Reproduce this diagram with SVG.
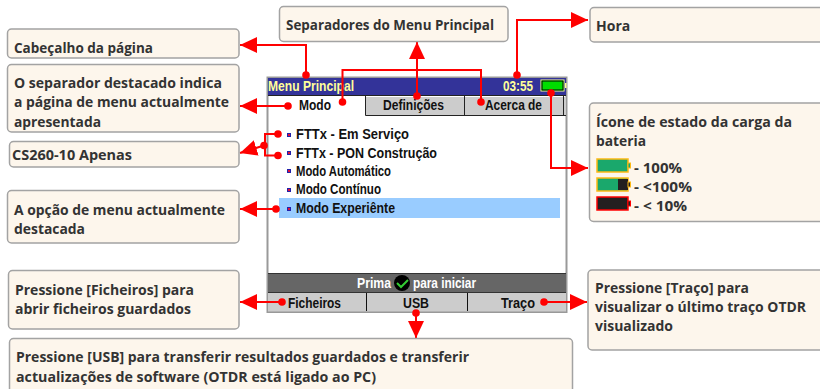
<svg xmlns="http://www.w3.org/2000/svg" width="820" height="389" viewBox="0 0 820 389">
<style>
.box{fill:#fdf6ec;stroke:#a3a3a3;stroke-width:1.5}
.t{font-family:"Open Sans","Noto Sans",sans-serif;font-weight:700;font-size:14px;fill:#333}
.s{font-family:"Liberation Sans",sans-serif;font-weight:700;font-size:14px;fill:#111}
.y{fill:#ffff99}
.w{fill:#fff}
.c{fill:none;stroke:#f00;stroke-width:2}
.d{fill:#f00}
.b{fill:#2222aa}
.r{fill:#e0103a}
</style>
<defs>
<marker id="a" markerUnits="userSpaceOnUse" markerWidth="18" markerHeight="16" refX="17" refY="8" orient="auto"><path d="M0 0L17 8L0 16Z" fill="#f00"/></marker>
</defs>
<rect width="820" height="389" fill="#fff"/>
<g id="screen">
<rect x="267.500" y="77.500" width="299" height="234.500" fill="#fff" stroke="#999" stroke-width="2"/>
<rect x="268" y="78" width="298" height="18" fill="#333399"/>
<text x="268" y="91" class="s y" textLength="86" lengthAdjust="spacingAndGlyphs">Menu Principal</text>
<text x="503" y="91" class="s y" textLength="30" lengthAdjust="spacingAndGlyphs">03:55</text>
<rect x="541" y="80" width="23" height="11" fill="#00dd00" stroke="#ffff99" stroke-width="1"/>
<rect x="542" y="81" width="21" height="9" fill="#00dd00" stroke="#000" stroke-width="1"/>
<rect x="565" y="83" width="1.500" height="5" fill="#ffff99"/>
<rect x="366" y="97" width="98" height="18" fill="#ccc"/>
<rect x="465" y="97" width="98" height="18" fill="#ccc"/>
<rect x="564" y="97" width="2" height="18" fill="#ccc"/>
<path d="M268 95.500H566M365.500 96V115.500H566M464.500 96V115M563.500 96V115" fill="none" stroke="#222"/>
<text x="299" y="110" class="s" textLength="32" lengthAdjust="spacingAndGlyphs">Modo</text>
<text x="383" y="110" class="s" textLength="61" lengthAdjust="spacingAndGlyphs">Definições</text>
<text x="485" y="110" class="s" textLength="57" lengthAdjust="spacingAndGlyphs">Acerca de</text>
<rect x="279" y="198" width="281" height="20" fill="#99ccff"/>
<g id="menu">
<rect x="287" y="133" width="4" height="4" class="b"/><rect x="288" y="134" width="2" height="2" class="r"/><text x="296" y="139" class="s" textLength="113" lengthAdjust="spacingAndGlyphs">FTTx - Em Serviço</text>
<rect x="287" y="151" width="4" height="4" class="b"/><rect x="288" y="152" width="2" height="2" class="r"/><text x="296" y="158" class="s" textLength="141" lengthAdjust="spacingAndGlyphs">FTTx - PON Construção</text>
<rect x="287" y="169" width="4" height="4" class="b"/><rect x="288" y="170" width="2" height="2" class="r"/><text x="296" y="176" class="s" textLength="95" lengthAdjust="spacingAndGlyphs">Modo Automático</text>
<rect x="287" y="188" width="4" height="4" class="b"/><rect x="288" y="189" width="2" height="2" class="r"/><text x="296" y="194" class="s" textLength="85" lengthAdjust="spacingAndGlyphs">Modo Contínuo</text>
<rect x="287" y="207" width="4" height="4" class="b"/><rect x="288" y="208" width="2" height="2" class="r"/><text x="296" y="213" class="s" textLength="99" lengthAdjust="spacingAndGlyphs">Modo Experiênte</text>
</g>
<rect x="268" y="273" width="298" height="19" fill="#666"/>
<path d="M268 273.500H566M268 292.500H566" stroke="#333"/>
<text x="357" y="288" class="s w" textLength="34" lengthAdjust="spacingAndGlyphs">Prima</text>
<circle cx="402" cy="283" r="8" fill="#000"/>
<path d="M397 283L401 287L408 280" fill="none" stroke="#3c3" stroke-width="2"/>
<text x="413" y="288" class="s w" textLength="63" lengthAdjust="spacingAndGlyphs">para iniciar</text>
<rect x="268" y="293" width="298" height="18.500" fill="#ccc"/>
<path d="M366.500 293V311M467.500 293V311" stroke="#111"/>
<text x="288" y="308" class="s" textLength="53" lengthAdjust="spacingAndGlyphs">Ficheiros</text>
<text x="403" y="308" class="s" textLength="26" lengthAdjust="spacingAndGlyphs">USB</text>
<text x="501" y="308" class="s" textLength="34" lengthAdjust="spacingAndGlyphs">Traço</text>
</g>
<g id="connectors">
<path class="c" d="M306 75V45H240" marker-end="url(#a)"/>
<path class="c" d="M288 106H240" marker-end="url(#a)"/>
<path class="c" d="M342.500 102V70H481V102"/>
<path class="c" d="M417 96V42" marker-end="url(#a)"/>
<path class="c" d="M517 75V20H588" marker-end="url(#a)"/>
<path class="c" d="M551 93V168H588" marker-end="url(#a)"/>
<path class="c" d="M278 134H265V155.500H278"/>
<path class="c" d="M264 145.500L240 153" marker-end="url(#a)"/>
<path class="c" d="M276 209H240" marker-end="url(#a)"/>
<path class="c" d="M282 302H240" marker-end="url(#a)"/>
<path class="c" d="M544 302H587" marker-end="url(#a)"/>
<path class="c" d="M416 313V338" marker-end="url(#a)"/>
<g class="d">
<circle cx="306" cy="75" r="3.800"/><circle cx="288" cy="106" r="3.800"/><circle cx="342.500" cy="102" r="3.800"/><circle cx="481" cy="102" r="3.800"/><circle cx="417" cy="96" r="3.800"/><circle cx="517" cy="75" r="3.800"/><circle cx="551" cy="93" r="3.800"/><circle cx="278" cy="134" r="3.800"/><circle cx="278" cy="155.500" r="3.800"/><circle cx="264" cy="145.500" r="3.800"/><circle cx="276" cy="209" r="3.800"/><circle cx="282" cy="302" r="3.800"/><circle cx="544" cy="302" r="3.800"/><circle cx="416" cy="313" r="3.800"/>
</g>
</g>
<g id="n-cabecalho"><rect class="box" x="7.500" y="29" width="231.500" height="29" rx="4"/><text class="t" x="14" y="53" textLength="139" lengthAdjust="spacingAndGlyphs">Cabeçalho da página</text></g>
<g id="n-separador"><rect class="box" x="7.500" y="64.500" width="231.500" height="67.500" rx="4"/><text class="t" x="14" y="88" textLength="208" lengthAdjust="spacingAndGlyphs">O separador destacado indica</text><text class="t" x="14" y="107" textLength="215" lengthAdjust="spacingAndGlyphs">a página de menu actualmente</text><text class="t" x="14" y="127" textLength="87" lengthAdjust="spacingAndGlyphs">apresentada</text></g>
<g id="n-cs260"><rect class="box" x="9.500" y="141.500" width="229.500" height="25.500" rx="4"/><text class="t" x="12" y="160" textLength="120" lengthAdjust="spacingAndGlyphs">CS260-10 Apenas</text></g>
<g id="n-opcao"><rect class="box" x="7.500" y="190.500" width="231.500" height="52.500" rx="4"/><text class="t" x="14" y="215" textLength="211" lengthAdjust="spacingAndGlyphs">A opção de menu actualmente</text><text class="t" x="14" y="234" textLength="71" lengthAdjust="spacingAndGlyphs">destacada</text></g>
<g id="n-ficheiros"><rect class="box" x="8.500" y="270.500" width="230.500" height="58.500" rx="4"/><text class="t" x="15" y="295" textLength="179" lengthAdjust="spacingAndGlyphs">Pressione [Ficheiros] para</text><text class="t" x="15" y="314" textLength="176" lengthAdjust="spacingAndGlyphs">abrir ficheiros guardados</text></g>
<g id="n-usb"><rect class="box" x="9.500" y="338.500" width="563" height="56" rx="4"/><text class="t" x="16" y="362" textLength="453" lengthAdjust="spacingAndGlyphs">Pressione [USB] para transferir resultados guardados e transferir</text><text class="t" x="16" y="382" textLength="360" lengthAdjust="spacingAndGlyphs">actualizações de software (OTDR está ligado ao PC)</text></g>
<g id="n-traco"><rect class="box" x="588" y="270" width="240" height="80" rx="4"/><text class="t" x="595" y="293" textLength="154" lengthAdjust="spacingAndGlyphs">Pressione [Traço] para</text><text class="t" x="595" y="312" textLength="211" lengthAdjust="spacingAndGlyphs">visualizar o último traço OTDR</text><text class="t" x="595" y="331" textLength="78" lengthAdjust="spacingAndGlyphs">visualizado</text></g>
<g id="n-hora"><rect class="box" x="590" y="7.500" width="240" height="34.500" rx="4"/><text class="t" x="596" y="31">Hora</text></g>
<g id="n-separadores"><rect class="box" x="279.500" y="6.500" width="228.500" height="35" rx="4"/><text class="t" x="286" y="30" textLength="208" lengthAdjust="spacingAndGlyphs">Separadores do Menu Principal</text></g>
<g id="n-bateria"><rect class="box" x="589.500" y="103" width="240" height="118.500" rx="4"/><text class="t" x="596" y="127" textLength="196" lengthAdjust="spacingAndGlyphs">Ícone de estado da carga da</text><text class="t" x="596" y="146" textLength="50" lengthAdjust="spacingAndGlyphs">bateria</text>
<rect x="597" y="159" width="31" height="13" fill="#1aa86c" stroke="#fdb913" stroke-width="1.500"/><rect x="628" y="163" width="2.500" height="5" fill="#1aa86c" stroke="#fdb913"/>
<text class="t" x="634" y="173" textLength="48" lengthAdjust="spacingAndGlyphs">- 100%</text>
<rect x="597" y="178" width="31" height="13" fill="#1aa86c" stroke="#fdb913" stroke-width="1.500"/><rect x="618" y="179" width="10" height="11" fill="#231f20"/><rect x="628" y="182" width="2.500" height="5" fill="#231f20" stroke="#fdb913"/>
<text class="t" x="634" y="192" textLength="58" lengthAdjust="spacingAndGlyphs">- &lt;100%</text>
<rect x="597" y="197" width="31" height="13" fill="#231f20" stroke="#f00" stroke-width="1.500"/><rect x="628" y="201" width="2.500" height="5" fill="#231f20" stroke="#f00"/>
<text class="t" x="634" y="211" textLength="53" lengthAdjust="spacingAndGlyphs">- &lt; 10%</text></g>
</svg>
